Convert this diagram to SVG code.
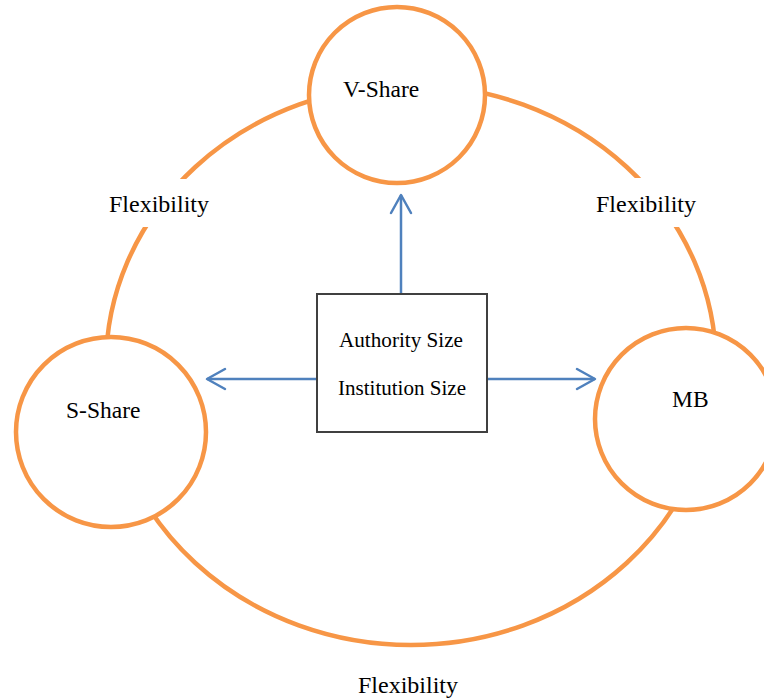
<svg xmlns="http://www.w3.org/2000/svg" width="764" height="698" viewBox="0 0 764 698">
  <style>
    .ring { fill: none; stroke: #F79646; stroke-width: 4.5; }
    .node { fill: #FFFFFF; stroke: #F79646; stroke-width: 4.5; }
    .box { fill: #FFFFFF; stroke: #404040; stroke-width: 2; }
    .label { font-family: "Liberation Serif", "Times New Roman", serif; font-size: 23.5px; fill: #000000; }
    .flex { font-family: "Liberation Serif", "Times New Roman", serif; font-size: 24px; fill: #000000; }
    .inner { font-family: "Liberation Serif", "Times New Roman", serif; font-size: 21px; fill: #000000; }
    .arrow { fill: none; stroke: #4F81BD; stroke-width: 2.5; marker-end: url(#chevron); }
    .mask { fill: #FFFFFF; }
  </style>
  <defs>
    <marker id="chevron" markerUnits="userSpaceOnUse" markerWidth="24" markerHeight="26" viewBox="-20 -12 24 24" refX="0" refY="0" orient="auto">
      <path d="M-18,-10 L0,0 L-18,10" fill="none" stroke="#4F81BD" stroke-width="2.5" stroke-linecap="round" stroke-linejoin="round"/>
    </marker>
  </defs>

  <rect width="764" height="698" fill="#FFFFFF"/>

  <!-- outer cycle linking the three shares -->
  <g id="cycle">
    <ellipse class="ring" cx="411" cy="365" rx="305" ry="280"/>
  </g>

  <!-- cycle labels -->
  <g id="flex-left">
    <rect class="mask" x="104" y="179" width="110" height="48"/>
    <text class="flex" x="109" y="212">Flexibility</text>
  </g>
  <g id="flex-right">
    <rect class="mask" x="591" y="178" width="110" height="49"/>
    <text class="flex" x="596" y="212">Flexibility</text>
  </g>
  <g id="flex-bottom">
    <text class="flex" x="358" y="693">Flexibility</text>
  </g>

  <!-- share nodes -->
  <g id="v-share">
    <circle class="node" cx="397" cy="95" r="88"/>
    <text class="label" x="343" y="97">V-Share</text>
  </g>
  <g id="s-share">
    <circle class="node" cx="111" cy="432" r="95"/>
    <text class="label" x="66" y="418">S-Share</text>
  </g>
  <g id="mb">
    <circle class="node" cx="686" cy="419" r="91"/>
    <text class="label" x="672" y="407">MB</text>
  </g>

  <!-- connectors from the centre box -->
  <g id="connectors">
    <line class="arrow" x1="401" y1="294" x2="401" y2="195"/>
    <line class="arrow" x1="317" y1="379" x2="207" y2="379"/>
    <line class="arrow" x1="487" y1="379" x2="595" y2="379"/>
  </g>

  <!-- centre box -->
  <g id="size-box">
    <rect class="box" x="317" y="294" width="170" height="138"/>
    <text class="inner" x="339" y="347" textLength="124" lengthAdjust="spacingAndGlyphs">Authority Size</text>
    <text class="inner" x="338" y="395" textLength="128" lengthAdjust="spacingAndGlyphs">Institution Size</text>
  </g>
</svg>
